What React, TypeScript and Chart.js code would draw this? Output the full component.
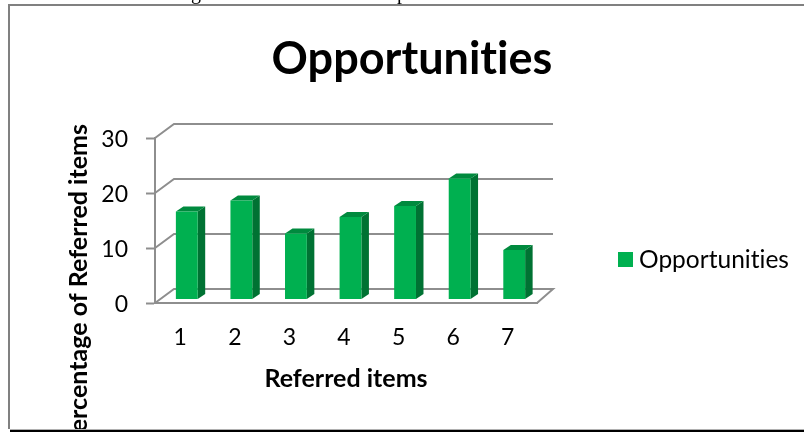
import React, { useEffect, useRef } from "react";
import { Chart, registerables } from "chart.js";

Chart.register(...registerables);

const categories = ["1", "2", "3", "4", "5", "6", "7"];
const seriesName = "Opportunities";
const values = [16, 18, 12, 15, 17, 22, 9];
const yTicks = [0, 10, 20, 30];
const titleText = "Opportunities";
const xTitleText = "Referred items";
const yTitleText = "Percentage of Referred items";
const cutOffLetters = ["g", "p"];

const FONT = "Lato, Carlito, sans-serif";
const GREEN = "#00B050";
const GREEN_SIDE = "#007233";
const GREEN_TOP = "#008A3E";
const GRID = "#8E8E8E";
const WALL_DX = 19;
const WALL_DY = -14;
const BAR_DX = 4.5;
const BAR_DY = -3.5;
const DEPTH_X = 7.5;
const DEPTH_Y = -5;

const scenePlugin = {
  id: "scene",
  beforeDraw(chart: any) {
    const { ctx, scales } = chart;
    const x = scales.x;
    const y = scales.y;
    ctx.save();
    // cut-off line of page text above the frame
    ctx.save();
    ctx.beginPath();
    ctx.rect(0, 0, 804, 4);
    ctx.clip();
    ctx.fillStyle = "#000";
    ctx.font = "20px 'Liberation Serif', serif";
    ctx.textAlign = "center";
    ctx.textBaseline = "alphabetic";
    ctx.fillText(cutOffLetters[0], 196, -1);
    ctx.fillText(cutOffLetters[1], 402, -1);
    ctx.restore();
    // page frame
    ctx.strokeStyle = "#808080";
    ctx.lineWidth = 2;
    ctx.beginPath();
    ctx.moveTo(9, 429);
    ctx.lineTo(9, 5);
    ctx.lineTo(804, 5);
    ctx.stroke();
    ctx.strokeStyle = "#000";
    ctx.beginPath();
    ctx.moveTo(10, 431);
    ctx.lineTo(804, 431);
    ctx.stroke();
    ctx.strokeStyle = "#B0B0B0";
    ctx.lineWidth = 1;
    ctx.beginPath();
    ctx.moveTo(10, 429.5);
    ctx.lineTo(804, 429.5);
    ctx.stroke();
    // walls and gridlines
    ctx.strokeStyle = GRID;
    ctx.lineWidth = 2;
    for (const v of yTicks) {
      const py = y.getPixelForValue(v);
      ctx.beginPath();
      ctx.moveTo(x.left, py);
      ctx.lineTo(x.left + WALL_DX, py + WALL_DY);
      ctx.lineTo(x.right + 16, py + WALL_DY);
      if (v === 0) ctx.lineTo(x.right, py);
      ctx.stroke();
    }
    ctx.restore();
  },
  beforeDatasetDraw(chart: any) {
    const { ctx } = chart;
    ctx.save();
    ctx.translate(BAR_DX, BAR_DY);
    for (const bar of chart.getDatasetMeta(0).data) {
      const l = bar.x - bar.width / 2;
      const r = bar.x + bar.width / 2;
      ctx.fillStyle = GREEN_SIDE;
      ctx.beginPath();
      ctx.moveTo(r, bar.y);
      ctx.lineTo(r + DEPTH_X, bar.y + DEPTH_Y);
      ctx.lineTo(r + DEPTH_X, bar.base + DEPTH_Y);
      ctx.lineTo(r, bar.base);
      ctx.closePath();
      ctx.fill();
      ctx.fillStyle = GREEN_TOP;
      ctx.beginPath();
      ctx.moveTo(l, bar.y);
      ctx.lineTo(l + DEPTH_X, bar.y + DEPTH_Y);
      ctx.lineTo(r + DEPTH_X, bar.y + DEPTH_Y);
      ctx.lineTo(r, bar.y);
      ctx.closePath();
      ctx.fill();
    }
  },
  afterDatasetDraw(chart: any) {
    chart.ctx.restore();
  },
  afterDraw(chart: any) {
    const { ctx } = chart;
    ctx.save();
    ctx.letterSpacing = "0.01px"; // keeps "ti" as two letters
    ctx.fillStyle = "#000";
    // chart title
    ctx.font = `bold 45px ${FONT}`;
    ctx.textAlign = "center";
    ctx.textBaseline = "middle";
    ctx.fillText(titleText, 412, 59);
    // legend
    ctx.fillStyle = GREEN;
    ctx.fillRect(618, 252, 15, 15);
    ctx.fillStyle = "#000";
    ctx.font = `24.5px ${FONT}`;
    ctx.textAlign = "left";
    ctx.fillText(seriesName, 639, 260);
    // vertical axis title, cut off by the page frame
    ctx.beginPath();
    ctx.rect(0, 0, 804, 429);
    ctx.clip();
    ctx.translate(79, 124);
    ctx.rotate(-Math.PI / 2);
    ctx.font = `bold 25px ${FONT}`;
    ctx.textAlign = "right";
    ctx.fillText(yTitleText, 0, 0);
    ctx.restore();
  },
};

export default function App() {
  const ref = useRef<HTMLCanvasElement>(null);
  useEffect(() => {
    document.body.style.margin = "0";
    const chart = new Chart(ref.current!, {
      type: "bar",
      data: {
        labels: categories,
        datasets: [
          {
            label: seriesName,
            data: values,
            backgroundColor: GREEN,
            barPercentage: 0.4,
            categoryPercentage: 1,
          },
        ],
      },
      plugins: [scenePlugin],
      options: {
        animation: false,
        responsive: false,
        layout: { padding: { top: 138, right: 267, left: 0, bottom: 38 } },
        plugins: { legend: { display: false }, title: { display: false }, tooltip: { enabled: false } },
        scales: {
          x: {
            afterFit: (s: any) => {
              s.height = 91;
            },
            grid: { drawOnChartArea: false, drawTicks: false },
            border: { color: GRID, width: 2 },
            ticks: { color: "#000", font: { family: FONT, size: 23 }, padding: 21, labelOffset: -2, maxRotation: 0 },
            title: {
              display: true,
              text: xTitleText,
              color: "#000",
              font: { family: FONT, size: 25, weight: "bold" },
              padding: { top: 12, bottom: 0 },
            },
          },
          y: {
            min: 0,
            max: 30,
            afterFit: (s: any) => {
              s.width = 155;
            },
            afterBuildTicks: (s: any) => {
              s.ticks = yTicks.map((value) => ({ value }));
            },
            grid: { drawOnChartArea: false, tickLength: 9, tickColor: GRID, tickWidth: 2 },
            border: { color: GRID, width: 2 },
            ticks: { color: "#000", font: { family: FONT, size: 23 }, padding: 18, labelOffset: 2 },
          },
        },
      },
    } as any);
    return () => chart.destroy();
  }, []);
  return <canvas ref={ref} width={804} height={432} style={{ display: "block" }} />;
}
